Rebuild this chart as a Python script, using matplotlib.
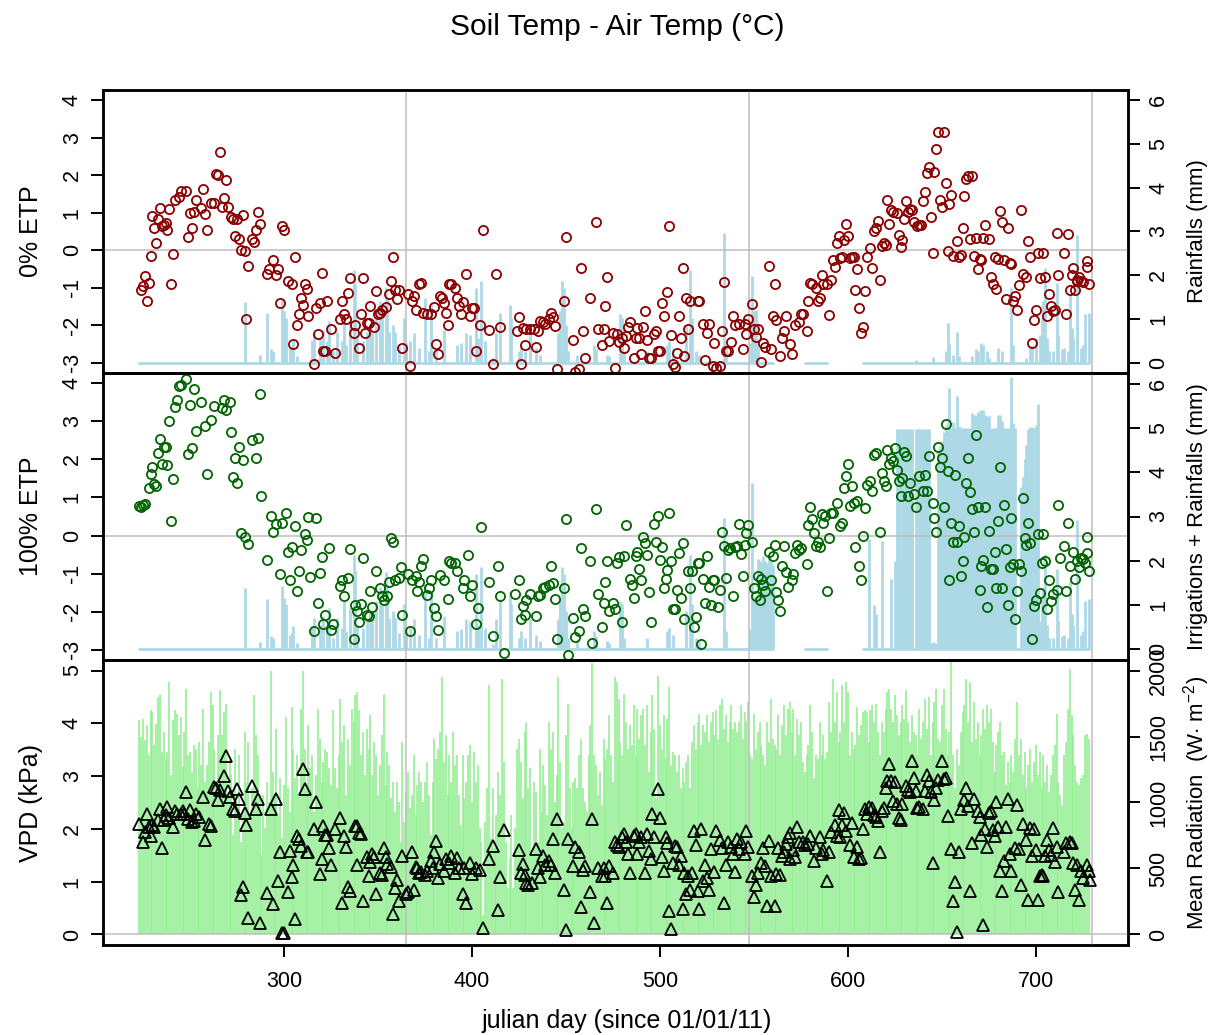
import numpy as np
import matplotlib
matplotlib.use("Agg")
import matplotlib.pyplot as plt

plt.rcParams['font.family'] = ['Liberation Sans', 'DejaVu Sans']
plt.rcParams['mathtext.fontset'] = 'custom'
plt.rcParams['mathtext.rm'] = 'Liberation Sans'
plt.rcParams['mathtext.it'] = 'Liberation Sans:italic'
plt.rcParams['axes.unicode_minus'] = False

# --- soil - air temperature, 0% ETP (julian day, deg C)
ETP0_DAY = [224,225,226,227,228,229,230,231,232,233,
            234,235,236,237,238,239,240,241,242,244,
            245,248,249,250,251,252,253,256,257,258,
            259,261,263,264,265,266,267,268,269,270,
            272,273,274,275,276,277,278,279,280,281,
            283,284,285,286,287,291,292,294,296,297,
            298,299,300,302,304,305,306,307,308,309,
            310,311,312,313,316,317,318,319,320,321,
            322,323,325,327,330,331,332,333,334,335,
            337,338,340,341,342,343,344,345,346,348,
            349,350,351,352,354,356,357,358,359,360,
            361,363,366,367,368,369,370,372,373,374,
            376,378,380,381,382,383,384,385,386,387,
            388,389,391,392,393,394,395,397,399,400,
            401,402,404,406,409,411,413,415,424,425,
            426,427,428,429,431,433,434,435,436,438,
            439,441,442,443,444,445,449,450,454,455,
            457,458,459,460,463,466,467,469,470,471,
            472,473,475,476,477,478,480,481,482,483,
            484,486,487,488,489,490,491,492,493,494,
            495,497,498,499,500,501,502,504,505,506,
            507,508,509,510,511,512,513,514,515,516,
            520,521,523,524,525,526,528,529,530,532,
            533,534,535,536,538,539,540,542,544,545,
            546,547,549,550,551,552,554,555,556,558,
            559,560,561,562,564,565,566,567,569,570,
            572,574,575,576,578,579,580,581,583,584,
            585,586,587,589,590,591,592,593,594,595,
            596,597,598,599,600,601,602,603,604,605,
            606,607,608,609,610,612,613,614,615,616,
            617,618,619,620,621,622,623,624,626,627,
            628,629,630,631,632,633,634,635,637,638,
            639,640,641,642,643,644,645,646,647,648,
            649,650,651,652,653,654,655,656,658,659,
            660,661,662,663,664,665,666,667,668,669,
            670,671,672,673,675,676,677,678,679,680,
            681,682,683,684,685,686,687,688,689,690,
            691,692,693,695,696,697,698,699,700,701,
            702,704,705,706,707,708,709,710,711,712,
            715,716,717,718,719,720,721,722,722,723,
            724,725,727,727,728]
ETP0_VAL = [-1.05,-0.96,-0.69,-1.36,-0.87,-0.16,0.90,0.59,0.20,0.82,
            1.13,0.64,0.68,0.73,0.53,1.11,-0.91,-0.09,1.35,1.41,
            1.57,1.57,0.35,0.99,0.58,1.01,1.35,1.13,1.64,0.97,
            0.55,1.26,1.26,2.03,2.01,2.63,1.14,1.39,1.88,1.14,
            0.88,0.83,0.37,0.82,0.31,0.00,0.93,-0.03,-1.84,-0.43,
            0.30,0.22,0.55,1.02,0.70,-0.62,-0.51,-0.27,-0.66,-0.51,
            -1.40,0.64,0.53,-0.82,-0.91,-2.51,-0.19,-1.98,-1.69,-1.27,
            -1.45,-0.91,-1.02,-1.76,-3.04,-1.55,-2.24,-1.40,-0.60,-2.69,
            -2.69,-1.34,-2.11,-2.73,-1.84,-1.34,-1.71,-1.84,-1.13,-0.75,
            -2.20,-1.98,-2.60,-1.69,-0.75,-2.20,-1.93,-1.95,-1.49,-2.04,
            -1.09,-1.71,-1.67,-1.58,-1.52,-1.16,-0.82,-0.19,-1.07,-1.31,
            -1.05,-2.60,-1.16,-3.09,-1.36,-1.22,-1.58,-0.89,-0.87,-1.67,
            -1.71,-1.69,-1.52,-2.49,-2.77,-1.22,-1.27,-1.40,-1.67,-1.98,
            -0.91,-0.90,-1.00,-1.27,-1.49,-1.71,-1.37,-0.63,-1.76,-1.55,
            -1.55,-2.69,-2.00,0.53,-2.13,-3.02,-0.63,-2.05,-2.15,-1.78,
            -3.02,-2.08,-2.53,-2.11,-2.11,-2.11,-2.58,-2.14,-1.89,-1.91,
            -1.96,-1.84,-1.67,-1.78,-2.02,-3.17,-1.36,0.35,-2.40,-3.24,
            -3.17,-0.47,-2.15,-2.88,-1.27,0.74,-2.11,-2.53,-2.11,-1.49,
            -0.72,-2.41,-2.20,-3.13,-2.23,-2.44,-2.33,-2.60,-2.29,-2.05,
            -1.91,-2.88,-2.33,-2.07,-2.33,-2.77,-2.05,-1.62,-2.38,-2.86,
            -2.86,-2.23,-2.14,-2.69,-2.69,-1.40,-1.76,-1.11,0.64,-2.26,
            -3.02,-3.11,-2.73,-1.76,-2.35,-0.47,-2.82,-1.27,-2.11,-1.36,
            -1.34,-1.34,-1.96,-2.93,-2.20,-1.96,-3.09,-2.46,-3.15,-3.09,
            -2.14,-0.84,-2.69,-2.69,-2.44,-1.76,-1.98,-1.96,-2.64,-1.96,
            -2.23,-1.84,-1.43,-2.11,-2.31,-2.11,-2.99,-2.46,-2.58,-0.43,
            -2.64,-1.76,-0.90,-1.87,-2.82,-2.33,-2.15,-1.76,-2.51,-2.77,
            -1.98,-1.91,-1.71,-1.69,-2.14,-1.34,-0.87,-0.91,-1.00,-1.34,
            -1.27,-0.66,-0.90,-0.90,-1.73,-0.78,-0.27,-0.45,0.20,0.37,
            -0.20,-0.19,0.28,0.70,0.37,-0.20,-0.19,-0.19,-1.05,-0.49,
            -1.55,-2.20,-2.05,-1.09,-0.19,0.06,-0.47,0.51,0.58,0.79,
            -0.78,0.11,0.20,0.13,1.35,0.70,1.08,1.02,0.99,0.42,
            0.08,0.28,0.82,1.32,1.02,1.11,1.08,0.75,0.64,0.66,
            0.68,1.30,1.55,2.06,2.23,0.88,-0.07,2.08,2.70,3.15,
            1.35,1.14,3.15,1.79,-0.03,1.23,1.46,-0.16,0.24,-0.19,
            -0.13,0.58,1.44,1.91,1.97,0.31,1.97,-0.16,0.33,-0.51,
            -0.22,-0.25,0.33,0.66,0.31,-0.72,-0.90,-0.19,-1.02,-0.22,
            1.05,0.75,-0.25,-1.31,0.58,-0.34,-0.36,-1.36,-1.22,-1.60,
            -0.93,1.08,-0.63,-0.72,0.24,-0.19,-2.46,-1.87,-1.60,-0.07,
            -0.74,-0.07,-0.72,-1.76,-1.16,-1.49,-1.62,-1.58,0.46,-0.66,
            -0.07,-1.69,0.43,-1.07,-0.65,-0.47,-1.07,-0.78,-0.81,-0.72,
            -0.82,-0.84,-0.29,-0.45,-0.91]

# --- soil - air temperature, 100% ETP
ETP100_DAY = [223,224,225,226,228,229,230,231,232,233,
              234,235,236,237,238,239,240,241,242,243,
              244,245,248,249,250,251,252,253,256,258,
              259,261,263,267,268,269,271,272,273,274,
              275,276,277,278,279,281,283,285,286,287,
              288,291,293,294,296,298,299,301,302,303,
              304,306,307,308,309,311,312,313,314,316,
              317,318,319,320,321,322,324,325,326,330,
              331,332,334,335,337,338,339,340,341,342,
              344,345,346,347,349,351,352,353,355,356,
              357,358,359,361,362,363,366,367,368,370,
              371,372,373,374,376,377,378,380,381,382,
              383,385,387,388,389,391,392,395,396,398,
              399,400,402,403,405,409,411,414,415,417,
              423,425,426,427,428,429,431,434,435,436,
              438,439,441,442,443,444,445,449,450,451,
              454,455,457,458,459,460,463,464,466,467,
              469,470,471,472,473,475,476,477,478,480,
              481,482,484,485,486,487,488,489,490,491,
              492,493,494,495,497,498,499,500,501,502,
              503,504,505,506,507,508,509,510,511,512,
              513,515,516,517,518,519,520,521,522,523,
              524,525,526,527,528,529,531,532,533,534,
              535,536,537,539,540,541,542,543,544,545,
              546,547,549,550,551,552,553,554,555,556,
              558,559,560,561,562,563,564,565,566,567,
              568,570,571,572,573,574,575,578,579,580,
              581,582,583,584,585,586,587,588,589,590,
              591,592,594,596,597,598,599,600,601,602,
              603,604,605,606,607,608,609,610,612,613,
              614,615,617,618,619,620,621,622,623,624,
              625,626,627,628,629,630,631,632,633,635,
              636,638,640,641,642,643,645,646,647,648,
              649,650,651,652,653,654,655,656,657,658,
              659,660,661,662,663,664,665,666,667,668,
              669,670,671,672,673,674,675,676,677,678,
              679,680,681,682,683,684,685,686,687,688,
              689,690,691,692,693,694,695,696,697,698,
              699,700,701,702,703,704,705,706,707,708,
              709,711,712,713,715,716,717,718,720,721,
              722,723,724,725,726,727,727,728]
ETP100_VAL = [0.78,0.76,0.80,0.82,1.24,1.61,1.81,1.35,1.30,2.16,
              2.53,1.88,2.33,2.32,1.85,3.02,0.37,1.48,3.37,3.56,
              3.92,3.95,4.10,2.14,3.43,2.29,3.84,2.75,3.51,2.88,
              1.62,3.03,3.40,3.34,3.56,3.31,3.51,2.73,1.53,2.05,
              1.39,2.32,0.06,1.98,-0.03,-0.22,2.51,2.05,2.55,3.73,
              1.04,-0.64,0.50,0.10,0.31,-1.01,0.32,0.60,-0.42,-1.16,
              -0.29,0.25,-1.47,-0.94,-0.38,0.04,-0.11,0.48,-1.08,-2.52,
              0.45,-1.76,-0.99,-0.57,-2.32,-2.08,-0.33,-2.47,-2.32,-1.32,
              -1.16,-1.60,-1.12,-0.35,-2.72,-1.82,-1.97,-2.28,-1.79,-0.59,
              -2.08,-2.12,-1.47,-1.88,-0.94,-1.38,-1.60,-1.70,-1.60,-1.21,
              -0.07,-0.18,-1.16,-1.12,-0.83,-2.08,-1.01,-2.52,-1.16,-1.06,
              -1.47,-1.23,-0.80,-0.62,-1.56,-1.38,-1.18,-1.91,-2.12,-2.47,
              -1.03,-1.18,-1.67,-0.66,-0.73,-0.71,-0.94,-1.38,-1.18,-0.51,
              -1.60,-1.29,-2.32,-1.91,0.22,-1.21,-2.65,-0.81,-1.58,-3.09,
              -1.53,-1.18,-2.19,-1.86,-2.08,-1.70,-1.53,-2.12,-1.58,-1.56,
              -1.38,-1.34,-1.29,-0.81,-1.25,-1.67,-2.72,-1.38,0.44,-3.13,
              -2.17,-2.67,-2.52,-0.33,-1.93,-2.11,-0.66,-2.82,0.69,-1.53,
              -2.40,-1.76,-1.23,-0.66,-1.99,-1.77,-1.93,-0.73,-0.57,-2.28,
              -0.53,0.28,-1.15,-1.29,-1.64,-0.55,-0.42,-0.88,-1.18,-0.03,
              -0.20,-0.51,-1.49,-2.26,0.31,-0.16,0.50,-0.64,-0.29,-1.38,
              -1.15,-0.90,0.59,-0.68,-1.93,-1.93,-1.44,-0.46,-1.64,-0.20,
              -2.19,-0.94,-1.38,-0.94,-2.39,-2.14,-0.73,-0.71,-2.84,-1.15,
              -1.77,-0.53,-1.34,-1.82,-1.18,-1.18,-1.88,-1.42,0.10,-0.27,
              -1.12,-0.39,-0.33,-1.60,-0.29,-0.27,0.31,-0.48,-1.06,-0.24,
              0.06,0.28,-0.18,-1.38,-1.60,-1.06,-1.69,-1.15,-1.29,-1.47,
              -0.42,-1.18,-0.55,-0.24,-1.49,-1.69,-1.97,-0.81,-0.27,-0.97,
              -1.34,-1.18,-1.01,-0.45,-0.24,-0.38,-0.33,-0.74,0.28,0.76,
              0.43,0.06,-0.27,-0.18,-0.29,0.57,0.34,0.52,-1.47,-0.07,
              0.59,0.60,0.85,0.25,0.34,1.24,1.56,1.88,0.78,1.30,
              0.85,-0.31,0.92,-0.80,-1.16,-0.01,0.72,1.33,1.44,1.18,
              2.12,2.18,0.08,1.65,1.42,1.30,2.26,1.88,2.05,1.97,
              2.29,1.72,1.44,1.04,1.50,2.20,2.09,1.04,1.39,1.09,
              0.74,1.56,1.18,1.59,1.18,2.09,0.85,0.45,0.08,2.32,
              1.79,2.03,0.76,2.93,1.70,-1.18,0.32,-0.18,1.59,-0.18,
              0.24,-1.06,-0.66,-0.04,1.39,2.05,1.15,0.69,0.10,2.64,
              0.76,-1.42,-0.80,-0.64,0.76,-1.88,0.13,-0.88,-0.88,-0.42,
              -1.38,0.37,1.79,-1.38,0.80,-0.36,-1.82,-0.83,0.45,-0.74,
              -2.19,-1.47,-0.74,-0.94,0.98,-0.07,-0.24,0.32,-0.20,-2.72,
              -1.86,-1.69,0.04,-1.51,-0.73,0.04,-0.68,-1.93,-1.16,-1.73,
              -1.53,-1.44,0.80,-0.59,-0.27,-1.47,0.32,-0.81,-0.42,-1.15,
              -0.66,-0.83,-0.59,-0.62,-0.71,-0.04,-0.46,-0.94]

# --- vapour pressure deficit (kPa)
VPD_DAY = [223,225,226,227,228,229,230,231,233,234,
           235,236,237,238,239,241,242,243,245,246,
           247,248,249,250,251,252,253,255,257,258,
           260,261,263,264,265,266,268,269,270,271,
           273,274,275,276,277,278,279,280,281,283,
           285,286,287,291,293,294,296,297,298,299,
           300,302,303,304,305,306,307,308,309,310,
           311,312,313,316,317,319,320,321,322,323,
           324,325,327,330,331,332,333,334,335,338,
           339,339,340,341,342,344,345,346,347,348,
           349,351,352,353,354,355,357,358,359,360,
           361,363,365,366,368,369,370,371,372,373,
           375,376,378,379,380,381,382,383,385,386,
           388,389,391,392,393,395,396,397,399,400,
           402,404,406,409,411,414,415,417,425,426,
           427,428,429,430,432,434,435,436,438,439,
           441,442,443,444,445,449,450,451,454,455,
           457,458,459,460,463,464,465,467,469,470,
           471,472,473,475,476,477,478,480,481,482,
           483,484,486,487,488,489,490,492,493,494,
           495,496,497,499,500,501,502,503,504,505,
           506,507,508,509,510,511,512,513,514,515,
           516,517,518,519,520,521,522,523,524,525,
           526,527,529,530,532,533,534,535,536,538,
           539,540,541,542,543,545,546,547,549,550,
           551,552,554,555,556,557,558,559,561,562,
           563,564,565,566,567,568,569,569,571,572,
           573,574,576,577,579,580,582,583,585,586,
           587,589,590,591,593,594,595,596,597,598,
           599,601,602,603,605,606,607,608,609,610,
           611,613,614,615,616,617,618,619,620,621,
           622,623,624,625,626,627,628,629,631,632,
           633,634,635,636,637,638,640,641,642,643,
           644,645,646,647,648,650,651,652,653,655,
           656,657,658,659,660,662,663,664,665,666,
           667,669,670,671,672,673,674,675,676,677,
           678,679,680,681,682,683,684,685,686,687,
           689,690,691,692,693,695,696,697,698,699,
           700,701,702,703,704,705,706,707,708,709,
           710,711,712,715,716,718,719,720,721,722,
           723,724,725,727,728,729]
VPD_VAL = [2.09,1.75,1.94,2.28,2.03,1.86,2.08,2.03,2.17,2.38,
           1.64,2.17,2.26,2.42,2.20,2.03,2.33,2.28,2.28,2.33,
           2.28,2.70,2.19,2.36,2.13,2.14,2.28,2.23,2.61,1.79,
           2.09,2.06,2.80,2.78,2.55,2.74,3.01,3.38,2.72,2.61,
           2.38,2.34,2.75,2.57,0.75,0.89,2.31,2.08,0.31,2.82,
           2.38,2.57,0.22,0.79,2.38,0.58,2.57,1.02,1.57,0.03,
           0.03,0.81,1.58,1.08,1.31,0.30,1.87,1.81,1.67,3.13,
           2.75,1.56,1.56,2.00,2.50,1.14,1.43,2.06,1.89,1.89,
           1.64,1.31,2.00,2.20,0.60,1.87,1.65,0.89,0.83,2.06,
           1.31,2.06,1.92,1.90,0.64,1.46,1.10,1.38,1.52,1.46,
           0.77,1.16,1.13,1.64,1.46,1.33,1.27,0.38,0.88,1.04,
           0.64,1.48,0.77,0.81,1.57,0.85,1.27,1.26,1.16,1.19,
           1.12,1.21,1.40,1.26,1.56,1.77,1.06,1.33,1.21,1.43,
           1.35,1.48,1.16,1.45,1.26,0.77,1.26,0.60,1.35,1.14,
           1.26,1.23,0.13,1.43,1.67,0.47,1.08,1.98,1.60,1.16,
           1.33,1.13,0.97,0.94,0.97,1.62,1.25,1.08,1.48,1.31,
           1.40,1.31,1.81,1.16,2.19,0.85,0.08,1.81,1.29,1.65,
           1.56,0.52,1.23,1.29,0.81,2.19,0.22,1.25,1.10,1.26,
           1.10,0.60,1.29,1.16,1.75,1.69,1.65,1.84,1.90,1.75,
           1.52,1.16,1.87,1.90,1.52,1.75,1.84,1.16,1.90,1.58,
           1.43,2.28,1.84,2.75,2.21,1.46,1.21,1.84,1.73,0.45,
           0.11,1.35,1.67,1.65,1.31,1.48,0.49,1.16,0.77,1.10,
           0.85,1.16,1.96,1.69,0.82,0.49,2.00,1.01,1.31,1.06,
           0.85,1.62,1.18,1.96,1.79,1.64,0.60,1.31,1.76,1.65,
           1.52,1.19,1.81,1.62,1.75,1.52,1.96,1.65,1.10,0.70,
           0.94,1.16,1.35,1.64,1.29,0.53,1.77,1.10,0.53,1.14,
           1.64,1.13,1.48,1.57,1.71,1.84,1.42,1.92,1.60,1.46,
           2.04,1.76,1.76,1.69,1.71,1.86,1.40,1.64,1.84,1.52,
           1.60,1.02,1.57,1.94,2.08,1.86,2.36,1.84,2.08,2.31,
           1.96,1.70,2.11,1.46,1.65,1.43,1.45,2.00,2.38,2.28,
           2.42,2.40,2.26,2.23,2.14,1.57,2.34,2.40,2.77,2.91,
           3.22,2.91,2.53,2.89,2.47,2.21,2.17,2.47,2.82,2.74,
           2.70,3.28,2.97,2.72,2.40,2.42,2.38,2.72,3.03,2.91,
           2.69,1.35,2.55,2.78,2.92,3.28,2.94,2.96,2.25,1.62,
           0.64,0.99,0.05,1.56,2.38,2.55,2.78,2.44,0.82,1.73,
           2.57,2.34,2.23,1.89,0.18,2.00,1.65,2.30,2.34,1.98,
           1.86,2.50,2.04,1.21,0.83,1.40,2.03,2.57,1.52,1.21,
           1.64,2.45,1.62,0.94,2.09,1.79,0.66,2.01,1.48,2.00,
           1.60,0.66,1.10,1.13,1.10,1.48,1.79,1.60,1.51,2.01,
           1.38,1.65,0.81,1.57,1.73,1.75,1.73,1.35,0.85,1.32,
           0.66,1.21,1.06,1.32,1.21,1.04]

# --- daily rainfall (mm): only the rainy days, the rest is 0
RAIN_DAY = [279,287,291,293,294,299,300,301,303,304,
            305,307,315,316,319,321,323,324,326,328,
            331,332,333,335,337,338,339,342,344,346,
            347,349,351,352,354,355,356,358,359,361,
            364,365,367,369,372,375,377,378,381,385,
            392,394,397,399,402,403,405,407,411,413,
            415,420,421,425,426,428,431,434,436,446,
            447,448,449,450,451,456,465,466,472,473,
            479,480,481,493,504,505,507,514,516,517,
            519,521,534,535,548,549,550,551,552,636,
            645,652,653,654,656,658,659,666,668,669,
            671,672,674,675,680,682,687,688,695,697,
            698,700,702,703,704,705,706,707,709,711,
            712,714,715,717,718,719,720,722,724,725,
            726,728]
RAIN_MM = [1.38,0.17,1.13,0.30,0.26,1.44,1.17,1.02,0.33,0.37,
           0.52,0.14,0.52,0.71,0.56,0.75,0.49,0.94,0.26,0.71,
           0.49,1.10,0.41,0.94,2.12,1.78,0.56,0.49,0.71,0.87,
           0.71,1.10,1.40,1.02,1.74,1.48,0.71,0.87,0.71,0.37,
           1.02,0.45,0.49,0.68,0.33,1.48,0.26,1.32,0.26,0.75,
           0.41,0.45,0.68,0.64,1.70,0.56,1.86,0.49,0.11,0.68,
           1.13,1.32,1.02,0.26,0.41,0.26,0.68,0.33,0.18,0.68,
           1.17,1.86,1.70,0.87,0.26,0.18,0.41,0.30,0.18,0.14,
           1.10,1.02,0.26,0.26,0.41,0.49,0.33,0.87,2.12,1.02,
           0.26,0.18,2.96,0.41,0.45,1.97,1.17,1.21,0.45,0.05,
           0.12,0.26,0.90,0.45,0.18,0.71,0.14,0.14,0.30,0.26,
           0.45,0.41,0.26,0.11,0.33,0.26,1.70,0.41,0.11,0.33,
           0.41,0.56,0.64,1.02,1.40,2.16,0.56,0.26,0.26,1.82,
           0.64,0.30,0.33,0.26,1.55,0.79,0.56,2.92,0.33,0.41,
           1.10,1.13]
RAIN_GAPS = [(561, 576), (590, 607)]   # no record

# --- irrigation (mm) on the 100% ETP plot
IRR_DAY = [549,552,553,554,555,556,557,558,559,560,
           611,614,615,618,623,625,626,627,628,629,
           630,631,632,633,634,635,636,637,638,639,
           640,641,642,643,644,645,646,647,648,649,
           650,651,652,653,654,655,656,657,658,659,
           660,661,662,663,664,665,666,667,668,669,
           670,671,672,673,674,675,676,677,678,679,
           680,681,682,683,684,685,686,687,688,689,
           692,693,694,695,696,697,698,699,700,701]
IRR_MM = [1.78,1.60,2.00,1.90,2.10,2.00,1.95,2.10,2.00,1.90,
          2.50,1.00,0.80,2.45,1.60,2.00,4.98,4.98,4.98,4.98,
          4.98,4.98,4.98,4.98,4.98,0.00,4.93,4.98,4.98,4.98,
          4.98,4.98,4.98,4.98,0.15,0.05,0.15,0.15,4.50,4.60,
          4.70,4.90,4.80,4.20,5.45,5.00,4.95,5.00,5.00,4.90,
          5.00,5.00,5.00,5.00,5.00,5.00,5.20,5.30,5.00,5.10,
          5.35,4.95,5.00,5.30,5.00,5.15,5.00,5.00,5.00,5.00,
          4.97,5.30,4.90,5.00,5.00,5.00,5.00,4.45,4.70,5.00,
          3.67,3.90,4.30,4.50,4.98,4.70,4.60,5.00,4.50,5.54]

# --- daily mean radiation (W m-2), one value per day from FIRST_DAY
FIRST_DAY = 223
RADIATION = [1623,1497,1635,1472,1585,1359,1698,1686,1434,1598,
             1799,1824,1384,1535,1333,1384,1912,1208,1623,1698,
             1673,1510,1648,1271,1535,1862,1359,1384,1233,1434,
             1409,1107,1459,1283,1711,1157,1283,1459,1837,1736,
             1409,1132,1510,1849,1510,1686,1749,1057,1346,1208,
             755,1409,931,1359,704,931,1535,1157,1459,855,
             1107,1812,1510,1359,1057,604,1057,805,1157,1006,
             2000,1233,1057,1560,906,1183,730,1132,1648,1107,
             931,1723,1409,1183,1359,1057,1711,1993,1409,1132,
             1585,1258,1359,931,1208,1711,1484,1157,1308,1409,
             1384,1258,1132,1698,1258,1107,1359,1786,1459,1585,
             1057,1484,1283,1711,1610,1812,1837,1698,1359,1535,
             1208,1560,1409,1661,1208,1459,1359,1057,1283,1510,
             1824,1132,1384,1283,1032,1157,931,1157,1006,704,
             1459,855,1082,1233,956,1057,1359,906,1132,1233,
             1157,1006,1157,1308,1057,755,1157,1484,1333,1409,
             1535,1950,1308,1510,1057,1359,1157,1535,1283,1359,
             1057,830,1359,1032,1157,1359,1434,1006,1384,1157,
             1283,805,704,151,855,1107,1887,730,1107,654,
             906,1233,1057,1937,1308,704,352,579,906,352,
             805,1409,1484,1308,1032,1535,1610,1107,1258,604,
             1157,1082,704,1409,931,1283,1132,906,1610,1409,
             1535,1006,1208,1950,1308,805,855,1510,1749,1107,
             805,1157,1183,1107,1359,1484,1107,1006,931,1359,
             1585,2060,1359,1283,1057,1233,981,1484,1333,1409,
             1661,1359,1157,1950,1912,1786,1459,1359,1824,1610,
             1409,1585,1434,1736,1359,1711,1484,1661,1711,1434,
             1736,1233,1535,1812,1560,1032,1962,1585,1409,1661,
             1333,1635,1874,1283,1384,1359,1233,1359,1107,1258,
             1157,1308,1359,1107,1459,1585,1409,1610,1673,1434,
             1585,1535,1661,1459,1610,1686,1510,1698,1484,1736,
             1786,1560,1661,1459,1610,1736,1560,1610,1535,1610,
             1736,1484,1686,1610,1761,1359,1333,1673,1409,1535,
             1610,1434,1359,1283,1610,1459,1786,1484,1434,1409,
             1661,1359,1585,1736,1510,1711,1761,1535,1711,1359,
             1635,1510,1610,1308,1233,1359,1434,1736,1535,1183,
             1359,1333,1610,1359,1510,1333,1384,1761,1535,1937,
             1610,1837,1459,1535,1887,1610,1912,1837,1359,1535,
             1409,1434,1723,1510,1585,1686,1698,1686,1459,1698,
             1736,1610,1749,1535,1359,1610,1535,1711,1837,1862,
             1711,1610,1812,1661,1510,1610,1736,1635,1849,1610,
             1459,1661,1535,1510,1359,1711,1484,1610,1786,1560,
             1799,1359,1610,1761,1862,1484,1459,1736,1862,1560,
             1359,1535,2063,1359,1107,1409,1283,1535,1686,1736,
             1937,1610,1912,1459,1761,1484,1610,1359,1510,1711,
             1560,1736,1610,1711,1459,1233,1434,1535,1610,1359,
             1384,1132,1308,1157,1359,1233,1484,1761,1359,1484,
             1208,1384,1107,1283,1409,1157,1308,1434,1208,1384,
             1107,1359,1157,1283,1082,1208,1359,1434,1673,1157,
             1057,981,1359,1459,1711,2013,1661,1510,1283,1157,
             1132,1183,1208,1510,1522,1484]

GRID_DAYS = [365, 547.5, 730]

RED = '#8B0000'
GREEN = '#006400'
BLUE = '#ADD8E6'
LGREEN = '#90EE90'
GRID = '#BEBEBE'

# daily series for the bars
days = np.arange(FIRST_DAY, FIRST_DAY + len(RADIATION))
rain = np.zeros(days.size)
rain[np.searchsorted(days, RAIN_DAY)] = RAIN_MM
for a, b in RAIN_GAPS:
    rain[(days >= a) & (days <= b)] = np.nan
irr = np.zeros(days.size)
irr[np.searchsorted(days, IRR_DAY)] = IRR_MM
water = rain + irr

W, H = 1214, 1035
fig = plt.figure(figsize=(W / 100, H / 100), dpi=100)
XLIM = (203.7, 749.0)
TICK_FS = 15.5
LAB_FS = 18
RLAB_FS = 16


def make_panel(top, bottom):
    ax = fig.add_axes([103 / W, 1 - bottom / H, 1025 / W, (bottom - top) / H])
    ax2 = ax.twinx()
    ax.set_zorder(ax2.get_zorder() + 1)
    ax.patch.set_visible(False)
    ax.set_xlim(XLIM)
    for a in (ax, ax2):
        for s in a.spines.values():
            s.set_linewidth(1.8)
        a.tick_params(direction='out', length=8.5, width=1.4, labelsize=TICK_FS, pad=6)
        a.tick_params(axis='y', labelrotation=90)
    for x in GRID_DAYS:
        ax.axvline(x, color=GRID, lw=1.1, zorder=0)
    ax.axhline(0, color=GRID, lw=1.1, zorder=0)
    return ax, ax2


def water_bars(ax2, vals):
    base = np.where(np.isnan(vals), np.nan, 0.0)
    ax2.plot(days, base, color=BLUE, lw=2.0, solid_capstyle='round')
    m = np.nan_to_num(vals) > 0
    ax2.vlines(days[m], 0, vals[m], color=BLUE, lw=2.0)


def finish_y(ax, ax2, left_ticks, left_lim, right_ticks, right_lim):
    ax.set_ylim(left_lim)
    ax.set_yticks(left_ticks)
    ax2.set_ylim(right_lim)
    ax2.set_yticks(right_ticks)
    for lab in ax.get_yticklabels() + ax2.get_yticklabels():
        lab.set_va('center')


# top: 0% ETP
ax, ax2 = make_panel(90, 373)
water_bars(ax2, rain)
ax.plot(ETP0_DAY, ETP0_VAL, ls='none', marker='o', ms=6.6, mfc='none', mec=RED, mew=1.3)
finish_y(ax, ax2, range(-3, 5), (-3.27, 4.27), range(0, 7), (-0.24, 6.24))
ax.tick_params(axis='x', bottom=False, labelbottom=False)

# middle: 100% ETP
ax, ax2 = make_panel(373, 660)
water_bars(ax2, water)
ax.plot(ETP100_DAY, ETP100_VAL, ls='none', marker='o', ms=6.6, mfc='none', mec=GREEN, mew=1.3)
finish_y(ax, ax2, range(-3, 5), (-3.27, 4.27), range(0, 7), (-0.24, 6.24))
ax.tick_params(axis='x', bottom=False, labelbottom=False)

# bottom: VPD and radiation
ax, ax2 = make_panel(660, 945)
ax2.vlines(days, 0, RADIATION, color=LGREEN, lw=1.15)
ax.plot(VPD_DAY, VPD_VAL, ls='none', marker='^', ms=8.0, mfc='none', mec='black', mew=1.3)
finish_y(ax, ax2, range(0, 6), (-0.2, 5.2), range(0, 2001, 500), (-80, 2080))
ax.set_xticks(range(300, 701, 100))
ax.tick_params(axis='x', pad=10)

# titles and axis labels
fig.text(617 / W, 1 - 27 / H, 'Soil Temp - Air Temp (°C)', ha='center', va='center', fontsize=21.5)
fig.text(627 / W, 1 - 1021 / H, 'julian day (since 01/01/11)', ha='center', va='center', fontsize=LAB_FS)
for label, yc in (('0% ETP', 231.5), ('100% ETP', 516.5), ('VPD (kPa)', 802.5)):
    fig.text(31 / W, 1 - yc / H, label, rotation=90, ha='center', va='center', fontsize=LAB_FS)
for label, yc in (('Rainfalls (mm)', 231.5), ('Irrigations + Rainfalls (mm)', 516.5),
                  (r'Mean Radiation  (W$\cdot$ m$^{-2}$)', 802.5)):
    fig.text(1197 / W, 1 - yc / H, label, rotation=90, ha='center', va='center', fontsize=RLAB_FS)

fig.savefig('out.png', dpi=100)
